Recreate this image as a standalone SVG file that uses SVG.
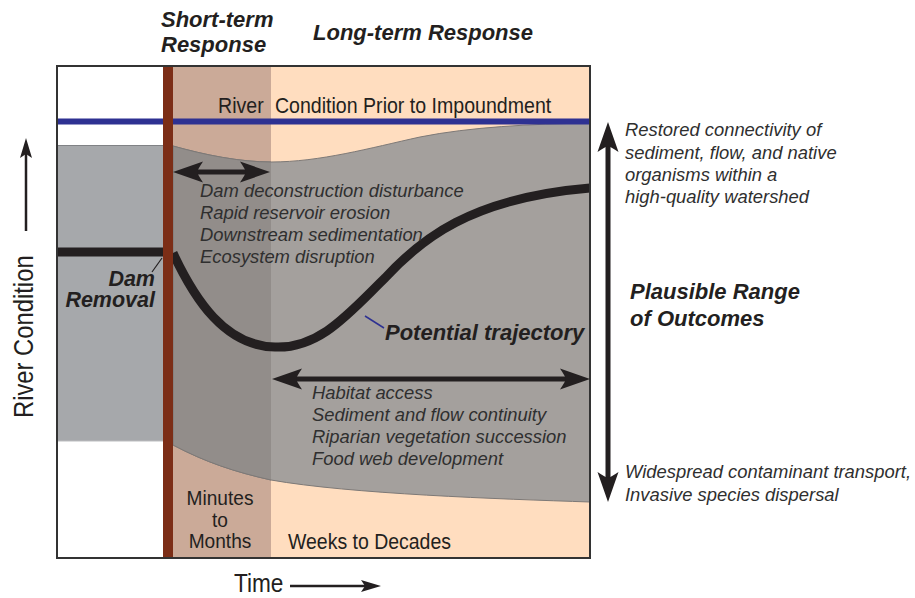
<svg xmlns="http://www.w3.org/2000/svg" width="915" height="598" viewBox="0 0 915 598">
<style>
.bi{font-family:"Liberation Sans",Arial,sans-serif;font-style:italic;font-weight:bold;font-size:22px;fill:#231f20}
.it{font-family:"Liberation Sans",Arial,sans-serif;font-style:italic;font-size:18.4px;fill:#2f2f2f}
.nr{font-family:"Liberation Sans",Arial,sans-serif;font-size:22px;fill:#231f20}
.arr{stroke:#231f20;stroke-width:5;fill:none}
.sm{stroke:#231f20;stroke-width:2.5;fill:none}
</style>
<defs>
<marker id="big" markerUnits="userSpaceOnUse" viewBox="0 -11 30 22" markerWidth="30" markerHeight="22" refX="6" refY="0" orient="auto-start-reverse">
<path d="M30,0 L0,-10.5 Q5,-3 6,0 Q5,3 0,10.5 Z" fill="#231f20"/>
</marker>
<marker id="small" markerUnits="userSpaceOnUse" viewBox="0 -7 20 14" markerWidth="20" markerHeight="14" refX="4" refY="0" orient="auto">
<path d="M20,0 L0,-6 L4,0 L0,6 Z" fill="#231f20"/>
</marker>
<clipPath id="stClip"><rect x="163" y="66" width="108" height="492"/></clipPath>
</defs>

<g id="background">
<rect x="57" y="66" width="533" height="492" fill="#ffffff"/>
<rect x="173" y="66" width="98" height="492" fill="#cbaa98"/>
<rect x="271" y="66" width="319" height="492" fill="#ffddbf"/>
<rect x="57" y="145" width="106" height="296" fill="#a6a8ab"/>
<line x1="57" y1="145.5" x2="163" y2="145.5" stroke="#808285" stroke-width="1.2"/>
<line x1="57" y1="441" x2="163" y2="441" stroke="#bcbdbf" stroke-width="1"/>
</g>

<g id="outcome-band">
<path d="M173,146 C205,155 240,162 271,162 C320,162 370,148 420,137 C470,127 530,124 590,123 L590,502 C500,499 350,494 271,480 C235,472 205,462 173,445 Z" fill="#a4a09d" stroke="#7d7977" stroke-width="1"/>
<path clip-path="url(#stClip)" d="M173,146 C205,155 240,162 271,162 C320,162 370,148 420,137 C470,127 530,124 590,123 L590,502 C500,499 350,494 271,480 C235,472 205,462 173,445 Z" fill="#928d8a" stroke="#7d7977" stroke-width="1"/>
</g>

<g id="prior-condition">
<line x1="57" y1="121.5" x2="590" y2="121.5" stroke="#2e3192" stroke-width="6"/>
<text class="nr" transform="translate(218,112.5) scale(0.89,1)"><tspan x="0">River</tspan><tspan x="64">Condition Prior to Impoundment</tspan></text>
</g>

<g id="trajectory">
<line x1="57" y1="252" x2="163" y2="252" stroke="#231f20" stroke-width="9"/>
<path d="M173,253 C195,300 225,346 275,347 C320,349 350,312 385,278 C420,240 470,198 590,188" fill="none" stroke="#231f20" stroke-width="9"/>
</g>

<g id="dam-bar">
<rect x="163" y="66" width="10" height="492" fill="#7c2e17"/>
</g>

<rect id="frame" x="57" y="66" width="533" height="492" fill="none" stroke="#333333" stroke-width="2"/>

<g id="connectors">
<line class="arr" x1="197" y1="172" x2="246" y2="172" marker-start="url(#big)" marker-end="url(#big)"/>
<line class="arr" x1="296" y1="379" x2="566" y2="379" marker-start="url(#big)" marker-end="url(#big)"/>
<line class="arr" x1="608" y1="146" x2="608" y2="478" marker-start="url(#big)" marker-end="url(#big)"/>
<line class="sm" x1="290" y1="586" x2="365" y2="586" marker-end="url(#small)"/>
<line class="sm" x1="26" y1="231" x2="26" y2="154" stroke-width="3" marker-end="url(#small)"/>
<line x1="152" y1="272" x2="162" y2="258" stroke="#231f20" stroke-width="1.2"/>
<line x1="365" y1="316" x2="384" y2="328" stroke="#2e3192" stroke-width="1.5"/>
</g>

<g id="headers">
<text class="bi" x="161" y="26.5">Short-term</text>
<text class="bi" x="161" y="52">Response</text>
<text class="bi" x="313" y="40">Long-term Response</text>
</g>

<g id="dam-removal">
<text class="bi" x="155" y="286" text-anchor="end" style="font-size:21.5px">Dam</text>
<text class="bi" x="155" y="307" text-anchor="end" style="font-size:21.5px">Removal</text>
</g>

<g id="short-term-effects">
<text class="it" x="200" y="197">Dam deconstruction disturbance</text>
<text class="it" x="200" y="219">Rapid reservoir erosion</text>
<text class="it" x="200" y="241">Downstream sedimentation</text>
<text class="it" x="200" y="263">Ecosystem disruption</text>
</g>

<g id="potential-trajectory">
<text class="bi" x="385" y="340">Potential trajectory</text>
</g>

<g id="long-term-effects">
<text class="it" x="312" y="399">Habitat access</text>
<text class="it" x="312" y="421">Sediment and flow continuity</text>
<text class="it" x="312" y="443">Riparian vegetation succession</text>
<text class="it" x="312" y="465">Food web development</text>
</g>

<g id="timescales">
<text class="nr" text-anchor="middle" style="font-size:21px" transform="translate(220,0) scale(0.91,1)"><tspan x="0" y="505">Minutes</tspan><tspan x="0" y="527">to</tspan><tspan x="0" y="548.5">Months</tspan></text>
<text class="nr" transform="translate(288,548.5) scale(0.885,1)">Weeks to Decades</text>
</g>

<g id="axes">
<text class="nr" style="font-size:26px" transform="translate(234,592) scale(0.87,1)">Time</text>
<text class="nr" style="font-size:28px" transform="translate(33,418) rotate(-90) scale(0.85,1)">River Condition</text>
</g>

<g id="outcomes">
<text class="it" x="625" y="136">Restored connectivity of</text>
<text class="it" x="625" y="158.5">sediment, flow, and native</text>
<text class="it" x="625" y="181">organisms within a</text>
<text class="it" x="625" y="203">high-quality watershed</text>
<text class="bi" x="630" y="299">Plausible Range</text>
<text class="bi" x="630" y="325.5">of Outcomes</text>
<text class="it" x="625" y="478">Widespread contaminant transport,</text>
<text class="it" x="625" y="500.5">Invasive species dispersal</text>
</g>
</svg>
